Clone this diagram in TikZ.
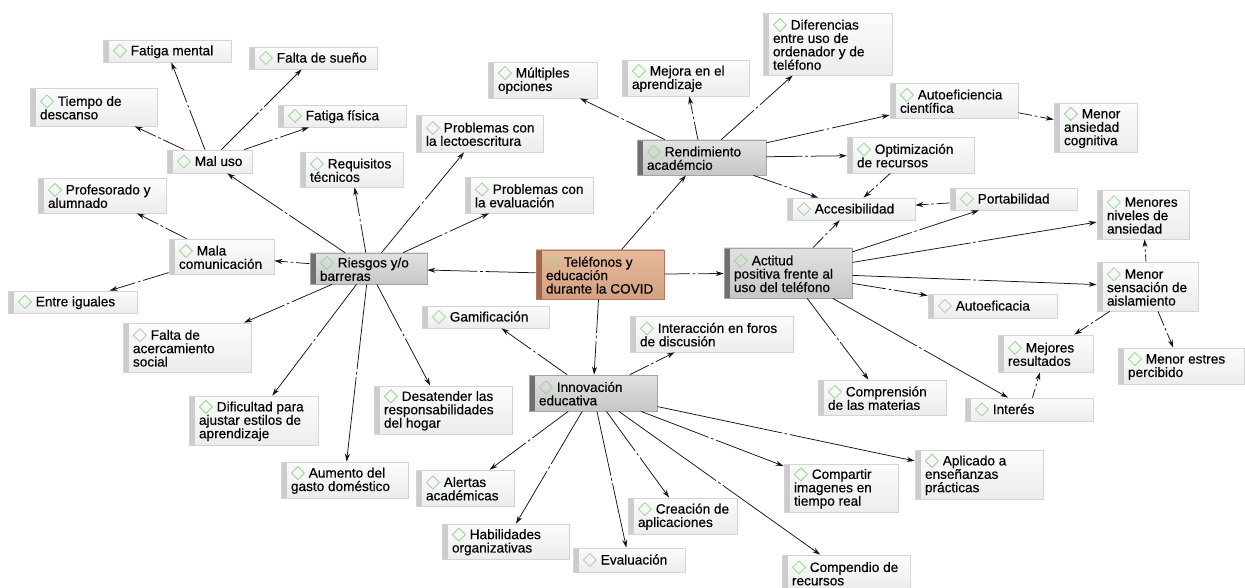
\documentclass[tikz,border=0pt]{standalone}
\usepackage{fontspec}
\setmainfont{Liberation Sans}
\newfontfamily\boxfont{Liberation Sans}[FakeBold=0.35]
\usetikzlibrary{arrows.meta,decorations.markings}
\definecolor{diag}{RGB}{150,215,145}
\definecolor{rtop}{RGB}{252,252,252}
\definecolor{rbot}{RGB}{236,236,236}
\definecolor{rbar}{RGB}{204,204,204}
\definecolor{rbord}{RGB}{212,212,212}
\definecolor{mtop}{RGB}{226,226,226}
\definecolor{mbot}{RGB}{198,198,198}
\definecolor{mbar}{RGB}{112,112,112}
\definecolor{mbord}{RGB}{165,165,165}
\definecolor{ctop}{RGB}{230,186,156}
\definecolor{cbot}{RGB}{212,160,128}
\definecolor{cbar}{RGB}{160,104,78}
\definecolor{cbord}{RGB}{178,124,98}
\definecolor{lnk}{RGB}{20,20,20}
\newcommand\dia{\tikz[baseline=0pt,x=1pt,y=1pt]\draw[diag,line width=0.8pt](0,4.5)--(6.5,11)--(13,4.5)--(6.5,-2)--cycle;\hspace{4pt}}
\newcommand\cn[7][box]{%
 \pgfmathsetmacro\cnw{#5-#3}%
 \pgfmathsetmacro\cnh{#6-#4}%
 \pgfmathsetmacro\cnt{#5-#3-16}%
 \node[#1,minimum width=\cnw pt,minimum height=\cnh pt] (#2) at ({(#3+#5)/2},{(#4+#6)/2}) {\hspace*{4pt}\parbox{\cnt pt}{\raggedright\dia #7}};}
\tikzset{
 boxbase/.style={rectangle,inner xsep=6pt,inner ysep=1pt,line width=0.7pt,
   font=\boxfont\fontsize{13.6}{13.4}\selectfont},
 box/.style={boxbase,draw=rbord,top color=rtop,bottom color=rbot,
   path picture={\fill[rbar] (path picture bounding box.north west) rectangle ([xshift=6pt]path picture bounding box.south west);}},
 mainbox/.style={boxbase,draw=mbord,top color=mtop,bottom color=mbot,
   path picture={\fill[mbar] (path picture bounding box.north west) rectangle ([xshift=6pt]path picture bounding box.south west);}},
 cenbox/.style={boxbase,draw=cbord,top color=ctop,bottom color=cbot,
   path picture={\fill[cbar] (path picture bounding box.north west) rectangle ([xshift=6pt]path picture bounding box.south west);}},
 lk/.style={draw=lnk,line width=0.75pt,-{Stealth[length=8pt,width=5pt]},
   decoration={markings,mark=at position 0.5 with {\fill[white] (-4pt,-1.6pt) rectangle (4pt,1.6pt); \draw[-,lnk,line width=0.75pt] (-1.3pt,0)--(1.3pt,0);}},
   postaction={decorate}}
}
\begin{document}
\begin{tikzpicture}[x=1pt,y=-1pt]
\fill[white] (0,0) rectangle (1245,588);
\useasboundingbox (0,0) rectangle (1245,588);
% central and main
\cn[cenbox]{cov}{536}{250}{664}{299}{Teléfonos y\\educación\\durante la COVID}
\cn[mainbox]{rie}{310}{253}{427}{284}{Riesgos y/o\\barreras}
\cn[mainbox]{ren}{637}{140}{766}{175}{Rendimiento\\académcio}
\cn[mainbox]{act}{724}{248}{852}{298}{Actitud\\positiva frente al\\uso del teléfono}
\cn[mainbox]{inn}{529}{375}{657}{411}{Innovación\\educativa}
% riesgos side
\cn{malu}{167}{150}{252}{173}{Mal uso}
\cn{fm}{103}{40}{231}{62}{Fatiga mental}
\cn{fs}{249}{47}{377}{69}{Falta de sueño}
\cn{ff}{278}{105}{406}{127}{Fatiga física}
\cn{td}{30}{88}{157}{126}{Tiempo de\\descanso}
\cn{req}{300}{152}{403}{187}{Requisitos\\técnicos}
\cn{ple}{416}{115}{543}{152}{Problemas con\\la lectoescritura}
\cn{pev}{465}{177}{593}{213}{Problemas con\\la evaluación}
\cn{prof}{38}{178}{166}{213}{Profesorado y\\alumnado}
\cn{mala}{169}{239}{274}{274}{Mala\\comunicación}
\cn{ent}{8}{291}{137}{313}{Entre iguales}
\cn{fac}{123}{323}{251}{372}{Falta de\\acercamiento\\social}
\cn{dif}{189}{396}{318}{445}{Dificultad para\\ajustar estilos de\\aprendizaje}
\cn{des}{374}{386}{512}{434}{Desatender las\\responsabilidades\\del hogar}
\cn{aum}{281}{462}{408}{498}{Aumento del\\gasto doméstico}
% innovacion side
\cn{gam}{422}{306}{549}{328}{Gamificación}
\cn{inte}{630}{316}{793}{352}{Interacción en foros\\de discusión}
\cn{ale}{416}{470}{514}{506}{Alertas\\académicas}
\cn{hab}{442}{524}{569}{559}{Habilidades\\organizativas}
\cn{eva}{573}{548}{685}{572}{Evaluación}
\cn{cre}{628}{498}{737}{534}{Creación de\\aplicaciones}
\cn{com}{784}{464}{898}{512}{Compartir\\imagenes en\\tiempo real}
\cn{cmp}{782}{555}{910}{591}{Compendio de\\recursos}
\cn{apl}{915}{450}{1043}{499}{Aplicado a\\enseñanzas\\prácticas}
% rendimiento side
\cn{mul}{488}{62}{597}{98}{Múltiples\\opciones}
\cn{mej}{622}{60}{749}{96}{Mejora en el\\aprendizaje}
\cn{dife}{763}{13}{892}{75}{Diferencias\\entre uso de\\ordenador y de\\teléfono}
\cn{aut}{890}{83}{1018}{118}{Autoeficiencia\\científica}
\cn{mac}{1054}{103}{1137}{152}{Menor\\ansiedad\\cognitiva}
\cn{opt}{847}{137}{974}{173}{Optimización\\de recursos}
\cn{acc}{787}{198}{915}{220}{Accesibilidad}
\cn{por}{950}{188}{1077}{210}{Portabilidad}
% actitud side
\cn{mna}{1097}{190}{1189}{239}{Menores\\niveles de\\ansiedad}
\cn{msa}{1097}{262}{1198}{311}{Menor\\sensación de\\aislamiento}
\cn{autf}{928}{294}{1057}{318}{Autoeficacia}
\cn{mres}{998}{335}{1093}{372}{Mejores\\resultados}
\cn{mep}{1118}{348}{1244}{384}{Menor estres\\percibido}
\cn{comp}{818}{380}{946}{415}{Comprensión\\de las materias}
\cn{int}{965}{398}{1093}{421}{Interés}
% connectors
\foreach \a/\b in {cov/rie,cov/act,cov/ren,cov/inn,
  rie/malu,rie/req,rie/ple,rie/pev,rie/mala,rie/fac,rie/dif,rie/aum,rie/des,
  malu/fm,malu/fs,malu/ff,malu/td,mala/prof,mala/ent,
  inn/gam,inn/inte,inn/ale,inn/hab,inn/eva,inn/cre,inn/com,inn/cmp,inn/apl,
  ren/mul,ren/mej,ren/dife,ren/aut,ren/opt,ren/acc,aut/mac,opt/acc,por/acc,
  act/acc,act/por,act/mna,act/msa,act/autf,act/comp,act/int,
  msa/mna,msa/mres,msa/mep,int/mres}
  \draw[lk] (\a) -- (\b);
\end{tikzpicture}
\end{document}
